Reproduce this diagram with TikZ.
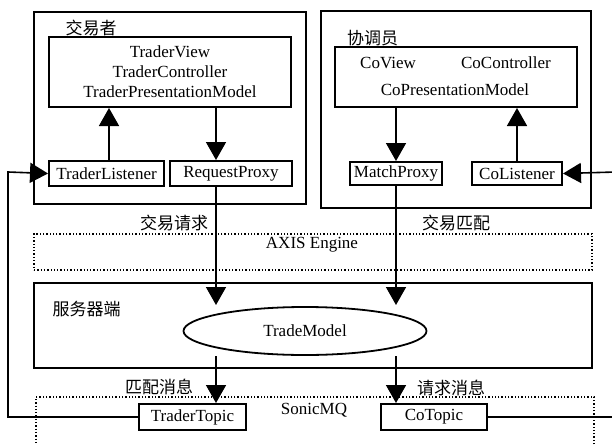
\documentclass[tikz,border=0pt]{standalone}
\usepackage{fontspec}
\setmainfont{Liberation Serif}
\newfontfamily\cjk{Noto Sans CJK SC}
\usetikzlibrary{arrows.meta,shapes.geometric}

\begin{document}
\begin{tikzpicture}[x=1pt, y=-1pt,
    >={Triangle[width=20pt 0,length=18pt 0]},
    every node/.style={font=\fontsize{17}{20}\selectfont, inner sep=0pt},
    outerbox/.style={draw, line width=1.8pt},
    partbox/.style={draw, line width=2pt},
    dotbox/.style={draw, dotted, line width=1.3pt},
    cjklabel/.style={font=\fontsize{17}{20}\selectfont\cjk},
    flow/.style={->, line width=1.6pt}]

        \useasboundingbox (0,0) rectangle (612,444);

        % 1) Trader side (top left)
        \node[outerbox, minimum width=272pt, minimum height=192pt] (trader) at (170,108) {};
        \node[cjklabel] (traderlbl) at (91,28) {交易者};
        \node[partbox, minimum width=242pt, minimum height=70pt, align=center] (tview) at (170,72)
            {TraderView\\TraderController\\TraderPresentationModel};
        \node[partbox, minimum width=115pt, minimum height=25pt] (tlisten) at (106.5,173.5) {TraderListener};
        \node[partbox, minimum width=122pt, minimum height=25pt] (rproxy) at (231,173.5) {RequestProxy};

        % 2) Coordinator side (top right)
        \node[outerbox, minimum width=270pt, minimum height=197pt] (coord) at (456,109.5) {};
        \node[cjklabel] (coordlbl) at (372.5,38) {协调员};
        \node[partbox, minimum width=242pt, minimum height=60pt] (cview) at (456,77) {};
        \node (cviewtxt) at (388,63) {CoView};
        \node (cctrltxt) at (506,63) {CoController};
        \node (cpmtxt) at (455,90) {CoPresentationModel};
        \node[partbox, minimum width=92pt, minimum height=23pt] (mproxy) at (396,173.5) {MatchProxy};
        \node[partbox, minimum width=90pt, minimum height=23pt] (clisten) at (517,173.5) {CoListener};

        % 3) AXIS Engine layer
        \node[cjklabel] (reqlbl) at (174,223) {交易请求};
        \node[cjklabel] (matchlbl) at (456,223) {交易匹配};
        \node[dotbox, minimum width=558pt, minimum height=36pt] (axis) at (313,252) {};
        \node (axistxt) at (312,245) {AXIS Engine};

        % 4) Server
        \node[outerbox, minimum width=558pt, minimum height=85pt] (server) at (313,325.5) {};
        \node[cjklabel] (serverlbl) at (86.5,309) {服务器端};
        \node[ellipse, draw, line width=1.8pt, minimum width=243pt, minimum height=48pt] (model) at (305,331) {TradeModel};

        % 5) SonicMQ layer (runs past the lower edge)
        \node[cjklabel] (matchmsg) at (159,387) {匹配消息};
        \node[cjklabel] (reqmsg) at (451,388) {请求消息};
        \node[dotbox, minimum width=558pt, minimum height=80pt] (sonic) at (315,437) {};
        \node (sonictxt) at (314,410) {SonicMQ};
        \node[partbox, fill=white, minimum width=107pt, minimum height=26pt] (ttopic) at (192.5,417) {TraderTopic};
        \node[partbox, fill=white, minimum width=106pt, minimum height=26pt] (ctopic) at (434,417) {CoTopic};

        % columns of the two request / match paths
        \coordinate (reqx) at (216,0);
        \coordinate (matchx) at (396,0);
        \coordinate (intop) at (0,305);
        \coordinate (inbot) at (0,356);

        % 6) Arrows inside the clients
        \draw[flow] (tlisten.north -| 109,0) -- (tview.south -| 109,0);
        \draw[flow] (tview.south -| reqx) -- (rproxy.north -| reqx);
        \draw[flow] (cview.south -| matchx) -- (mproxy.north -| matchx);
        \draw[flow] (clisten.north) -- (clisten.north |- cview.south);

        % 7) Calls down to the server, messages down to SonicMQ
        \draw[flow] (rproxy.south -| reqx) -- (reqx |- intop);
        \draw[flow] (mproxy.south -| matchx) -- (matchx |- intop);
        \draw[flow] (reqx |- inbot) -- (ttopic.north -| reqx);
        \draw[flow] (matchx |- inbot) -- (ctopic.north -| matchx);

        % 8) Topics back to the listeners
        \draw[flow] (ttopic.west) -- (8,417) -- (8,172) -- (tlisten.west);
        \draw[flow] (ctopic.east) -- (616,417) -- (616,172) -- (clisten.east);

    \end{tikzpicture}
\end{document}
